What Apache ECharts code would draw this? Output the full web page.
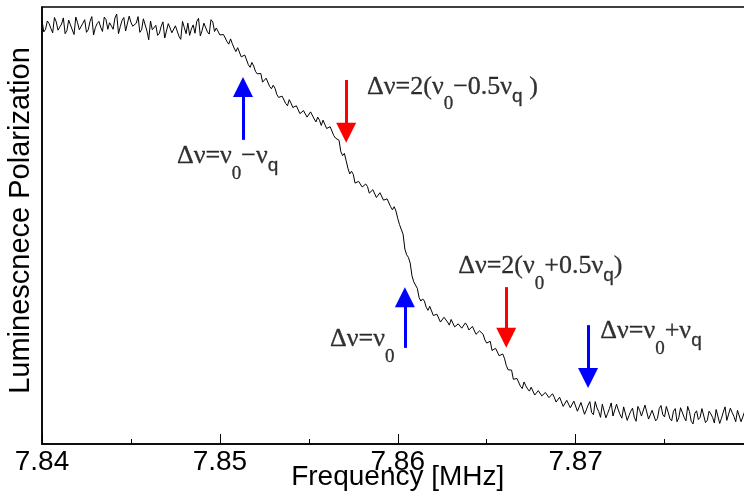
<!DOCTYPE html>
<html>
<head>
<meta charset="utf-8">
<script src="https://cdn.jsdelivr.net/npm/echarts@6/dist/echarts.min.js"></script>
<style>html,body{margin:0;padding:0;background:#fff;}#c{width:744px;height:502px;}</style>
</head>
<body>
<div id="c"></div>
<script>
// Frequency samples [MHz]
const freq = [
7.8400,7.8401,7.8402,7.8403,7.8404,7.8405,7.8406,7.8407,7.8408,7.8409,
7.8410,7.8411,7.8412,7.8413,7.8414,7.8415,7.8416,7.8417,7.8418,7.8419,
7.8420,7.8421,7.8422,7.8423,7.8424,7.8425,7.8426,7.8427,7.8428,7.8429,
7.8430,7.8431,7.8432,7.8433,7.8434,7.8435,7.8436,7.8437,7.8438,7.8439,
7.8440,7.8441,7.8442,7.8443,7.8444,7.8445,7.8446,7.8447,7.8448,7.8449,
7.8450,7.8451,7.8452,7.8453,7.8454,7.8455,7.8456,7.8457,7.8458,7.8459,
7.8460,7.8461,7.8462,7.8463,7.8464,7.8465,7.8466,7.8467,7.8468,7.8469,
7.8470,7.8471,7.8472,7.8473,7.8474,7.8475,7.8476,7.8477,7.8478,7.8479,
7.8480,7.8481,7.8482,7.8483,7.8484,7.8485,7.8486,7.8487,7.8488,7.8489,
7.8490,7.8491,7.8492,7.8493,7.8494,7.8495,7.8496,7.8497,7.8498,7.8499,
7.8500,7.8501,7.8502,7.8503,7.8504,7.8505,7.8506,7.8507,7.8508,7.8509,
7.8510,7.8511,7.8512,7.8513,7.8514,7.8515,7.8516,7.8517,7.8518,7.8519,
7.8520,7.8521,7.8522,7.8523,7.8524,7.8525,7.8526,7.8527,7.8528,7.8529,
7.8530,7.8531,7.8532,7.8533,7.8534,7.8535,7.8536,7.8537,7.8538,7.8539,
7.8540,7.8541,7.8542,7.8543,7.8544,7.8545,7.8546,7.8547,7.8548,7.8549,
7.8550,7.8551,7.8552,7.8553,7.8554,7.8555,7.8556,7.8557,7.8558,7.8559,
7.8560,7.8561,7.8562,7.8563,7.8564,7.8565,7.8566,7.8567,7.8568,7.8569,
7.8570,7.8571,7.8572,7.8573,7.8574,7.8575,7.8576,7.8577,7.8578,7.8579,
7.8580,7.8581,7.8582,7.8583,7.8584,7.8585,7.8586,7.8587,7.8588,7.8589,
7.8590,7.8591,7.8592,7.8593,7.8594,7.8595,7.8596,7.8597,7.8598,7.8599,
7.8600,7.8601,7.8602,7.8603,7.8604,7.8605,7.8606,7.8607,7.8608,7.8609,
7.8610,7.8611,7.8612,7.8613,7.8614,7.8615,7.8616,7.8617,7.8618,7.8619,
7.8620,7.8621,7.8622,7.8623,7.8624,7.8625,7.8626,7.8627,7.8628,7.8629,
7.8630,7.8631,7.8632,7.8633,7.8634,7.8635,7.8636,7.8637,7.8638,7.8639,
7.8640,7.8641,7.8642,7.8643,7.8644,7.8645,7.8646,7.8647,7.8648,7.8649,
7.8650,7.8651,7.8652,7.8653,7.8654,7.8655,7.8656,7.8657,7.8658,7.8659,
7.8660,7.8661,7.8662,7.8663,7.8664,7.8665,7.8666,7.8667,7.8668,7.8669,
7.8670,7.8671,7.8672,7.8673,7.8674,7.8675,7.8676,7.8677,7.8678,7.8679,
7.8680,7.8681,7.8682,7.8683,7.8684,7.8685,7.8686,7.8687,7.8688,7.8689,
7.8690,7.8691,7.8692,7.8693,7.8694,7.8695,7.8696,7.8697,7.8698,7.8699,
7.8700,7.8701,7.8702,7.8703,7.8704,7.8705,7.8706,7.8707,7.8708,7.8709,
7.8710,7.8711,7.8712,7.8713,7.8714,7.8715,7.8716,7.8717,7.8718,7.8719,
7.8720,7.8721,7.8722,7.8723,7.8724,7.8725,7.8726,7.8727,7.8728,7.8729,
7.8730,7.8731,7.8732,7.8733,7.8734,7.8735,7.8736,7.8737,7.8738,7.8739,
7.8740,7.8741,7.8742,7.8743,7.8744,7.8745,7.8746,7.8747,7.8748,7.8749,
7.8750,7.8751,7.8752,7.8753,7.8754,7.8755,7.8756,7.8757,7.8758,7.8759,
7.8760,7.8761,7.8762,7.8763,7.8764,7.8765,7.8766,7.8767,7.8768,7.8769,
7.8770,7.8771,7.8772,7.8773,7.8774,7.8775,7.8776,7.8777,7.8778,7.8779,
7.8780,7.8781,7.8782,7.8783,7.8784,7.8785,7.8786,7.8787,7.8788,7.8789,
7.8790,7.8791,7.8792,7.8793,7.8794,7.8795,7.8796,7.8797,7.8798,7.8799,
7.8800
];
// Luminescence polarization (arbitrary units)
const polarization = [
96.9,94.3,94.9,96.8,96.2,95.1,94.1,97.6,96.6,94.7,
95.4,96.1,97.5,93.9,94.6,97.0,95.9,95.5,93.7,97.7,
96.4,94.8,95.2,96.3,97.1,94.2,94.8,96.7,97.8,93.6,
95.3,96.2,96.7,95.4,94.4,97.7,97.1,94.9,96.4,95.7,
94.9,97.5,98.4,93.9,95.5,96.9,97.6,94.5,94.2,97.9,
96.5,95.6,95.9,96.3,97.8,94.2,94.8,97.3,96.9,94.5,
92.5,96.8,94.8,94.4,95.8,93.5,94.0,95.6,96.6,92.9,
93.2,96.2,95.2,94.1,93.8,95.7,96.0,93.3,92.6,96.7,
95.3,93.9,96.3,93.5,95.0,95.9,94.0,96.7,97.4,93.4,
94.6,96.3,96.3,94.3,93.8,97.1,96.6,94.4,95.2,95.1,
93.6,93.4,93.7,93.6,92.1,91.5,92.7,91.6,90.6,89.8,
90.7,90.8,88.6,88.9,89.0,88.6,86.8,86.2,87.3,86.5,
85.3,84.7,84.9,84.8,82.8,82.9,83.7,83.4,81.8,81.3,
82.1,81.4,80.0,79.3,79.5,79.6,79.4,77.9,77.4,78.8,
78.0,77.0,76.9,77.4,77.5,75.6,75.6,76.3,76.0,74.8,
74.8,76.0,75.7,74.4,73.7,74.8,74.1,72.9,74.1,73.7,
72.2,72.1,72.6,72.3,70.6,70.0,70.3,69.5,66.9,66.0,
66.5,64.8,63.1,61.8,62.4,61.7,59.7,59.6,60.1,60.2,
58.8,58.4,59.5,58.9,57.4,57.0,58.2,57.8,56.4,56.3,
57.5,57.5,55.8,55.9,56.1,56.0,54.3,53.6,54.3,53.3,
51.6,50.2,49.8,48.0,44.6,43.3,42.7,41.4,38.5,37.1,
37.1,35.6,33.5,32.7,33.2,32.7,31.3,30.6,31.5,31.2,
29.4,29.3,29.7,29.6,27.9,27.7,29.0,28.6,27.9,27.2,
28.5,28.5,26.8,27.2,27.5,27.7,26.5,26.1,27.7,27.1,
26.1,25.9,26.9,26.8,25.1,25.4,25.9,26.0,25.1,23.8,
23.1,23.5,23.5,21.4,21.4,21.9,21.7,20.2,19.9,20.6,
19.6,18.0,17.0,17.4,16.9,14.8,14.7,15.0,15.1,13.2,
12.7,14.2,13.3,12.6,12.1,13.0,12.9,11.2,11.0,12.2,
12.3,11.0,10.9,11.8,11.7,10.6,10.2,11.5,10.7,9.6,
9.3,10.7,10.6,8.6,8.9,10.0,10.1,8.3,8.2,9.8,
9.8,7.5,7.3,9.5,9.3,6.8,7.8,8.9,9.7,7.2,
6.7,9.7,8.3,7.4,6.1,9.1,8.9,6.0,7.0,8.1,
9.4,6.4,6.5,9.1,7.8,6.7,5.9,8.5,8.7,5.4,
6.5,7.5,8.2,6.1,5.2,8.6,7.7,6.4,6.7,8.9,
8.5,5.7,5.5,7.7,7.5,5.3,5.8,8.1,8.8,6.7,
6.2,8.6,7.3,5.8,5.3,7.5,8.1,5.1,6.0,8.3,
8.6,6.1,5.3,8.6,7.4,5.2,4.6,7.0,7.6,5.6,
6.1,8.1,8.2,4.9,5.4,7.5,6.9,6.1,4.8,7.9,
8.0,4.7,5.9,7.3,8.5,5.4,5.6,8.2,7.2,6.3,
5.1,7.7,7.9,5.1,6.2,7.4,8.3,5.6,5.5,8.0,
7.5
];
// Arrows: frequency, start level, end level, colour
const arrowFreq  = [7.8513, 7.8571, 7.8604, 7.8661, 7.8707];
const arrowFrom  = [69.6, 83.3, 22.0, 35.9, 27.2];
const arrowTo    = [81.7, 71.2, 33.6, 24.3, 15.1];
const arrowColor = ['#0000ff', '#ff0000', '#0000ff', '#ff0000', '#0000ff'];
// Annotation labels: anchor (left edge) frequency and level
const labelFreq  = [7.84756, 7.85825, 7.85617, 7.86337, 7.87136];
const labelLevel = [65.6, 81.5, 23.7, 40.4, 25.5];
const labelText  = [
  '{m|Δν=ν}{z|0}{m|−ν}{q|q}',
  '{m|Δν=2(ν}{z|0}{m|−0.5ν}{q|q}{m| )}',
  '{m|Δν=ν}{z|0}',
  '{m|Δν=2(ν}{z|0}{m|+0.5ν}{q|q}{m|)}',
  '{m|Δν=ν}{z|0}{m|+ν}{q|q}'
];
const xTicks = { min: 7.84, max: 7.88, interval: 0.01 };

const chart = echarts.init(document.getElementById('c'), null, { renderer: 'canvas' });
const lineData = freq.map((f, i) => [f, polarization[i]]);
const markData = arrowFreq.map((f, i) => [
  { coord: [f, arrowFrom[i]], lineStyle: { color: arrowColor[i] }, itemStyle: { color: arrowColor[i] } },
  { coord: [f, arrowTo[i]], lineStyle: { color: arrowColor[i] }, itemStyle: { color: arrowColor[i] } }
]);
const labelData = labelFreq.map((f, i) => ({
  value: [f, labelLevel[i]],
  label: { formatter: labelText[i] }
}));
const sans = 'Liberation Sans, Arial, sans-serif';
const serif = 'Liberation Serif, Times New Roman, serif';
const ink = { color: '#000', textBorderColor: '#000', textBorderWidth: 0.3 };

chart.setOption({
  animation: false,
  backgroundColor: '#fff',
  grid: {
    left: 42, top: 7, right: -9.5, bottom: 58, outerBoundsMode: 'none', containLabel: false,
    show: true, borderColor: '#000', borderWidth: 1.5, backgroundColor: 'transparent'
  },
  xAxis: {
    type: 'value', min: xTicks.min, max: xTicks.max, interval: xTicks.interval,
    name: 'Frequency [MHz]', nameLocation: 'middle', nameGap: 19, nameMoveOverlap: false,
    nameTextStyle: { fontFamily: sans, fontSize: 28, color: '#000' },
    axisLine: { show: true, lineStyle: { color: '#000', width: 1.5 } },
    axisTick: { show: true, inside: true, length: 10, lineStyle: { color: '#000', width: 1 } },
    minorTick: { show: true, splitNumber: 2, length: 5, lineStyle: { color: '#000', width: 1 } },
    axisLabel: {
      margin: 4, fontFamily: sans, fontSize: 28, color: '#000', showMaxLabel: false,
      formatter: v => (v > 7.875 ? '' : v.toFixed(2))
    },
    splitLine: { show: false }
  },
  yAxis: {
    type: 'value', min: 0, max: 100,
    name: 'Luminescnece Polarization', nameLocation: 'middle', nameGap: 7, nameMoveOverlap: false,
    nameTextStyle: { fontFamily: sans, fontSize: 29, color: '#000', padding: [0, 0, 0, 10] },
    axisLine: { show: true, lineStyle: { color: '#000', width: 1.5 } },
    axisTick: { show: false }, axisLabel: { show: false }, splitLine: { show: false }
  },
  series: [
    {
      type: 'line', data: lineData, showSymbol: false, symbol: 'none',
      lineStyle: { color: '#000', width: 1 }, silent: true,
      markLine: {
        silent: true, animation: false,
        symbol: ['none', 'triangle'], symbolSize: [20, 20],
        label: { show: false },
        lineStyle: { type: 'solid', width: 3 },
        data: markData
      }
    },
    {
      type: 'scatter', data: labelData, symbolSize: 1, silent: true,
      itemStyle: { color: 'rgba(0,0,0,0)' },
      label: {
        show: true, position: 'right', distance: 0, color: '#000',
        rich: {
          m: Object.assign({ fontFamily: serif, fontSize: 26, lineHeight: 28, verticalAlign: 'top' }, ink),
          z: Object.assign({ fontFamily: serif, fontSize: 19, lineHeight: 19, padding: [21, 0, 0, 0], verticalAlign: 'top' }, ink),
          q: Object.assign({ fontFamily: sans, fontSize: 19, lineHeight: 19, padding: [13, 0, 0, 0], verticalAlign: 'top' }, ink)
        }
      }
    }
  ]
});
</script>
</body>
</html>
